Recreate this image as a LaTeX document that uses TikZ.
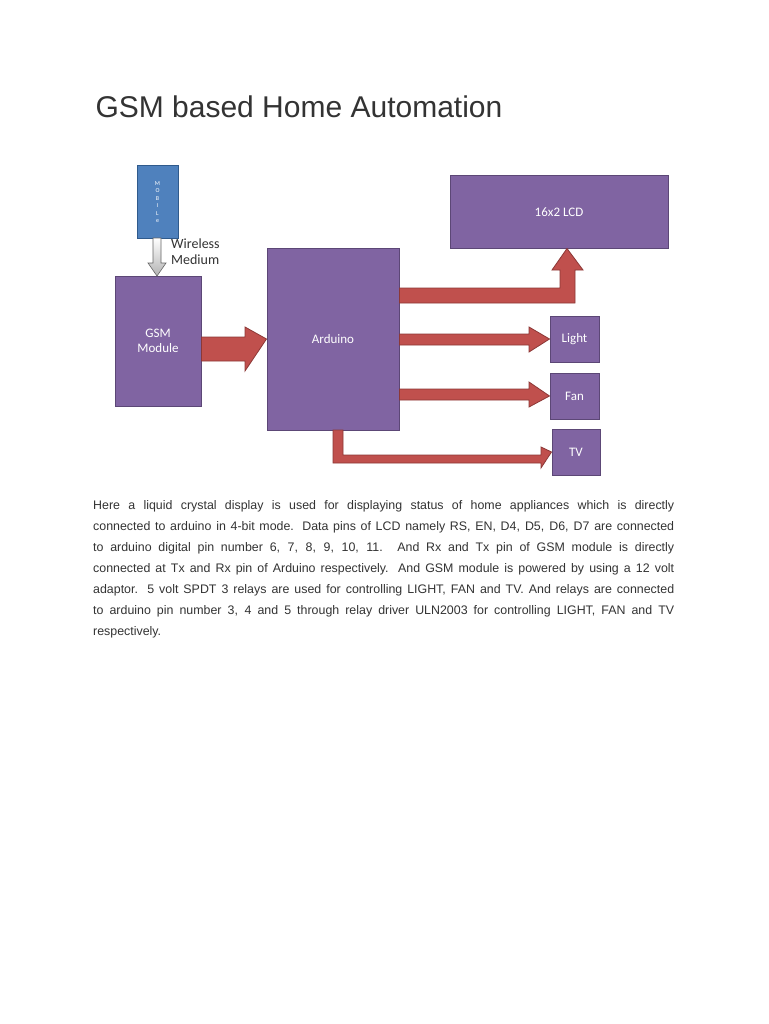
\documentclass[tikz,border=0pt]{standalone}
\usepackage{fontspec}
\setmainfont{Liberation Sans}
\newfontfamily\calfont{Carlito}
\definecolor{pur}{HTML}{8064A2}
\definecolor{purb}{HTML}{5C4776}
\definecolor{blu}{HTML}{4F81BD}
\definecolor{blub}{HTML}{2F5A8C}
\definecolor{rd}{HTML}{C0504D}
\definecolor{rdb}{HTML}{8C3836}
\definecolor{txt}{HTML}{333333}
\begin{document}
\begin{tikzpicture}[x=1pt,y=-1pt,
  blk/.style={fill=pur,draw=purb,line width=1pt,text=white,font=\calfont\fontsize{13}{15}\selectfont,align=center,inner sep=0pt},
  arr/.style={fill=rd,draw=rdb,line width=0.8pt}]
\useasboundingbox[fill=white] (0,0) rectangle (768,1024);
\node[anchor=base west,font=\fontsize{30}{34}\selectfont,text=txt] (title) at (92,118) {GSM based Home Automation};
% boxes
\node[blk,fill=blu,draw=blub,minimum width=41pt,minimum height=72pt,font=\calfont\fontsize{6}{7.5}\selectfont] (mob) at (157.5,202) {M\\O\\B\\I\\L\\e};
\node[blk,minimum width=86pt,minimum height=130pt] (gsm) at (158,341) {GSM\\Module};
\node[blk,minimum width=132pt,minimum height=182pt] (ard) at (333,339) {Arduino};
\node[blk,minimum width=218pt,minimum height=72pt] (lcd) at (559,212) {16x2 LCD};
\node[blk,minimum width=49pt,minimum height=46pt] (light) at (574.5,339) {Light};
\node[blk,minimum width=49pt,minimum height=46pt] (fan) at (574.5,396) {Fan};
\node[blk,minimum width=48pt,minimum height=46pt] (tv) at (576,452) {TV};
% wireless arrow
\shade[top color=white,bottom color=gray!60,draw=gray!80!black,line width=0.6pt]
 (153,238) -- (161,238) -- (161,263) -- (166,263) -- (157,276) -- (148,263) -- (153,263) -- cycle;
\node[anchor=north west,font=\calfont\fontsize{14}{16}\selectfont,text=txt,align=left,inner sep=0pt] (wm) at (171,239) {Wireless\\Medium};
% gsm -> arduino
\draw[arr] (gsm.east|-0,337) -- (245,337) -- (245,327) -- (ard.west) -- (245,371) -- (245,361) -- (gsm.east|-0,361) -- cycle;
% lcd
\draw[arr] (ard.east|-0,288) -- (560,288) -- (560,270) -- (552,270) -- (lcd.south-|567,0) -- (583,270) -- (575,270) -- (575,303) -- (ard.east|-0,303) -- cycle;
% light
\draw[arr] (ard.east|-0,334) -- (529,334) -- (529,327) -- (light.west) -- (529,352) -- (529,345) -- (ard.east|-0,345) -- cycle;
% fan
\draw[arr] (ard.east|-0,389) -- (529,389) -- (529,382) -- (fan.west) -- (529,407) -- (529,400) -- (ard.east|-0,400) -- cycle;
% tv
\draw[arr] (333,430) -- (333,463) -- (541,463) -- (541,468) -- (tv.west) -- (541,447) -- (541,455) -- (343,455) -- (343,430) -- cycle;
% paragraph
\node[anchor=north west,text width=581pt,inner sep=0pt,text=txt,font=\fontsize{12.4}{21}\selectfont,align=justify] (para) at (93,500) {Here a liquid crystal display is used for displaying status of home appliances which is directly\linebreak connected to arduino in 4-bit mode. Data pins of LCD namely RS, EN, D4, D5, D6, D7 are connected\linebreak to arduino digital pin number 6, 7, 8, 9, 10, 11. And Rx and Tx pin of GSM module is directly\linebreak connected at Tx and Rx pin of Arduino respectively. And GSM module is powered by using a 12 volt\linebreak adaptor. 5 volt SPDT 3 relays are used for controlling LIGHT, FAN and TV. And relays are connected\linebreak to arduino pin number 3, 4 and 5 through relay driver ULN2003 for controlling LIGHT, FAN and TV\linebreak respectively.};
\end{tikzpicture}
\end{document}
